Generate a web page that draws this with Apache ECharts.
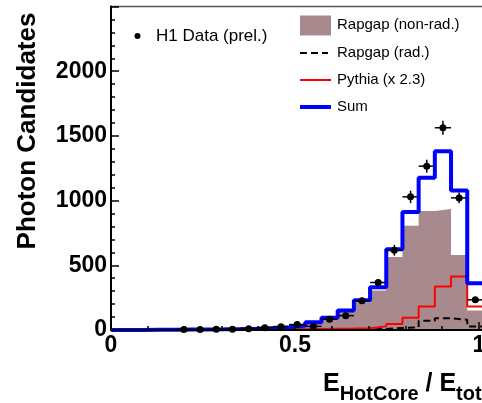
<!DOCTYPE html>
<html>
<head>
<meta charset="utf-8">
<script src="https://cdn.jsdelivr.net/npm/echarts@6/dist/echarts.min.js"></script>
<style>
  html, body { margin: 0; padding: 0; background: #fff; }
  #chart { width: 482px; height: 403px; }
</style>
</head>
<body>
<div id="chart"></div>
<script>
// histogram bin edges (E_HotCore / E_tot), 0.044 wide
var binEdges = [0, 0.044, 0.088, 0.132, 0.176, 0.22, 0.264, 0.308, 0.352, 0.396, 0.44, 0.484,
  0.528, 0.572, 0.616, 0.66, 0.704, 0.748, 0.792, 0.836, 0.88, 0.924, 0.968, 1.012]

// one value per bin
var sumHist = [0, 0, 1, 2, 3, 4, 5, 7, 10, 15, 22, 35, 60, 95, 150, 230, 330, 625, 912, 1176, 1382, 1078, 362]
var rapgapNonRad = [0, 0, 0, 1, 2, 3, 4, 5, 7, 11, 17, 28, 50, 85, 142, 212, 305, 565, 805, 920, 935, 580, 151]
var rapgapRad = [0, 0, 0, 0, 0, 0, 0, 0, 1, 1, 1, 2, 3, 3, 4, 5, 8, 15, 20, 71, 90, 80, 28]
var pythia = [0, 0, 0, 0, 0, 1, 1, 1, 2, 2, 3, 5, 7, 9, 11, 14, 28, 46, 95, 181, 336, 413, 181]

// H1 data, starting at bin 4
var dataFirstBin = 4
var dataValues = [4, 4, 5, 6, 9, 18, 26, 42, 28, 83, 111, 227, 367, 616, 1029, 1266, 1563, 1021, 233]
var dataErrors = [3, 3, 3, 4, 4, 6, 7, 9, 8, 12, 15, 22, 28, 42, 48, 50, 54, 42, 22]

var xTickLabels = [0, 0.5, 1]
var yTickLabels = [0, 500, 1000, 1500, 2000]

var FONT = 'Liberation Sans'

function stepPoints(values) {
  var pts = []
  for (var i = 0; i < values.length; i++) {
    pts.push([binEdges[i], values[i]])
  }
  pts.push([binEdges[values.length], values[values.length - 1]])
  return pts
}

var dataPoints = dataValues.map(function (v, i) {
  var b = dataFirstBin + i
  var lo = binEdges[b], hi = binEdges[b + 1]
  return [(lo + hi) / 2, v, dataErrors[i], lo, hi]
})

var chart = echarts.init(document.getElementById('chart'))

var option = {
  animation: false,
  backgroundColor: '#fff',
  grid: {
    left: 111,
    top: 6.5,
    width: 404.8,
    height: 323.5,
    show: true,
    borderColor: '#555',
    borderWidth: 1.5,
    outerBoundsMode: 'none'
  },
  xAxis: {
    type: 'value',
    min: 0,
    max: 1.1,
    interval: 0.5,
    z: 10,
    axisLine: { lineStyle: { color: '#000', width: 2 } },
    axisTick: { inside: true, length: 8, lineStyle: { color: '#000', width: 1.5 } },
    minorTick: { show: true, splitNumber: 5, length: 4, lineStyle: { color: '#000', width: 1.5 } },
    splitLine: { show: false },
    axisLabel: {
      margin: 4,
      fontFamily: FONT,
      fontWeight: 'bold',
      fontSize: 23,
      color: '#000',
      formatter: function (v) {
        return xTickLabels.indexOf(v) >= 0 ? String(v) : ''
      }
    }
  },
  yAxis: {
    type: 'value',
    min: 0,
    max: 2500,
    interval: 500,
    z: 10,
    axisLine: { show: true, lineStyle: { color: '#000', width: 2 } },
    axisTick: { show: true, inside: true, length: 8, lineStyle: { color: '#000', width: 1.5 } },
    minorTick: { show: true, splitNumber: 5, length: 4, lineStyle: { color: '#000', width: 1.5 } },
    splitLine: { show: false },
    axisLabel: {
      margin: 4,
      fontFamily: FONT,
      fontWeight: 'bold',
      fontSize: 23,
      color: '#000',
      padding: [6, 0, 0, 0],
      formatter: function (v) {
        return yTickLabels.indexOf(v) >= 0 ? String(v) : ''
      }
    }
  },
  series: [
    {
      name: 'Rapgap (non-rad.)',
      type: 'line',
      step: 'end',
      symbol: 'none',
      z: 1,
      lineStyle: { width: 0 },
      areaStyle: { color: '#a88a8e', opacity: 1 },
      data: stepPoints(rapgapNonRad)
    },
    {
      name: 'Rapgap (rad.)',
      type: 'line',
      step: 'end',
      symbol: 'none',
      z: 3,
      lineStyle: { color: '#000', width: 2, type: [7, 4] },
      data: stepPoints(rapgapRad)
    },
    {
      name: 'Pythia (x 2.3)',
      type: 'line',
      step: 'end',
      symbol: 'none',
      z: 4,
      lineStyle: { color: '#ff0000', width: 2 },
      data: stepPoints(pythia)
    },
    {
      name: 'Sum',
      type: 'line',
      step: 'end',
      symbol: 'none',
      clip: false,
      z: 5,
      lineStyle: { color: '#0000ff', width: 4 },
      data: stepPoints(sumHist)
    },
    {
      name: 'H1 Data (prel.)',
      type: 'custom',
      z: 12,
      clip: false,
      renderItem: function (params, api) {
        var x = api.value(0), y = api.value(1), e = api.value(2)
        var c = api.coord([x, y])
        var l = api.coord([api.value(3), y])
        var r = api.coord([api.value(4), y])
        var t = api.coord([x, y + e])
        var b = api.coord([x, y - e])
        var st = { stroke: '#000', lineWidth: 1.5 }
        return {
          type: 'group',
          children: [
            { type: 'line', shape: { x1: l[0], y1: l[1], x2: r[0], y2: r[1] }, style: st },
            { type: 'line', shape: { x1: t[0], y1: t[1], x2: b[0], y2: b[1] }, style: st },
            { type: 'circle', shape: { cx: c[0], cy: c[1], r: 3.5 }, style: { fill: '#000' } }
          ]
        }
      },
      data: dataPoints
    }
  ],
  graphic: [
    // legend
    { type: 'circle', shape: { cx: 137.5, cy: 36, r: 3 }, style: { fill: '#000' } },
    { type: 'text', x: 156, y: 36, style: { text: 'H1 Data (prel.)', font: '17px ' + FONT, fill: '#000', verticalAlign: 'middle' } },
    { type: 'rect', shape: { x: 300, y: 15.5, width: 31, height: 20 }, style: { fill: '#a88a8e' } },
    { type: 'text', x: 337, y: 25, style: { text: 'Rapgap (non-rad.)', font: '15px ' + FONT, fill: '#000', verticalAlign: 'middle' } },
    { type: 'line', shape: { x1: 300, y1: 53, x2: 328, y2: 53 }, style: { stroke: '#000', lineWidth: 2, lineDash: [7, 4] } },
    { type: 'text', x: 337, y: 53, style: { text: 'Rapgap (rad.)', font: '15px ' + FONT, fill: '#000', verticalAlign: 'middle' } },
    { type: 'line', shape: { x1: 300, y1: 80, x2: 331, y2: 80 }, style: { stroke: '#ff0000', lineWidth: 2 } },
    { type: 'text', x: 337, y: 80, style: { text: 'Pythia (x 2.3)', font: '15px ' + FONT, fill: '#000', verticalAlign: 'middle' } },
    { type: 'line', shape: { x1: 300, y1: 107, x2: 331, y2: 107 }, style: { stroke: '#0000ff', lineWidth: 4 } },
    { type: 'text', x: 337, y: 107, style: { text: 'Sum', font: '15px ' + FONT, fill: '#000', verticalAlign: 'middle' } },
    // axis titles
    {
      type: 'text', x: 28, y: 131, rotation: Math.PI / 2,
      style: { text: 'Photon Candidates', font: 'bold 26px ' + FONT, fill: '#000', align: 'center', verticalAlign: 'middle' }
    },
    {
      type: 'text', x: 323, y: 372,
      style: {
        text: '{e|E}{s|HotCore}{e| / E}{s|tot}',
        fill: '#000',
        rich: {
          e: { fontFamily: FONT, fontWeight: 'bold', fontSize: 25, lineHeight: 25, verticalAlign: 'top' },
          s: { fontFamily: FONT, fontWeight: 'bold', fontSize: 20, lineHeight: 20, padding: [12, 0, 0, 0], verticalAlign: 'top' }
        }
      }
    }
  ]
}

chart.setOption(option)
</script>
</body>
</html>
